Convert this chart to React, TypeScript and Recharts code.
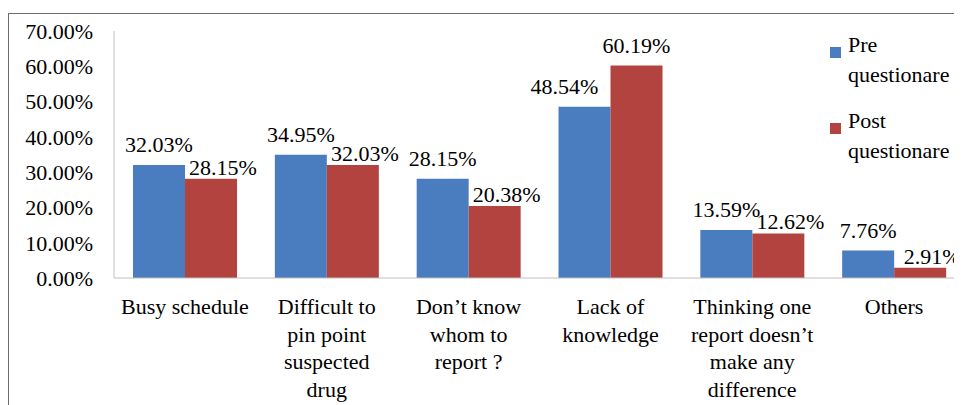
import { BarChart, Bar, XAxis, YAxis, Legend, LabelList } from 'recharts';

const categories = [
  'Busy schedule',
  'Difficult to\npin point\nsuspected\ndrug',
  'Don’t know\nwhom to\nreport ?',
  'Lack of\nknowledge',
  'Thinking one\nreport doesn’t\nmake any\ndifference',
  'Others',
];
const preValues = [32.03, 34.95, 28.15, 48.54, 13.59, 7.76];
const postValues = [28.15, 32.03, 20.38, 60.19, 12.62, 2.91];
const yTicks = [0, 10, 20, 30, 40, 50, 60, 70];
const seriesNames = ['Pre\nquestionare', 'Post\nquestionare'];

const data = categories.map((name, i) => ({ name, pre: preValues[i], post: postValues[i] }));

const FONT = 'Liberation Serif, Tinos, Times New Roman, DejaVu Serif, serif';
const FS = 22;
const BLUE = '#4a7dbf';
const RED = '#b3433f';

const fmt = (v: number) => `${Number(v).toFixed(2)}%`;

const CategoryTick = (props: any) => {
  const { x, y, payload } = props;
  const lines = String(payload.value).split('\n');
  return (
    <text x={x} y={y + 36} textAnchor="middle" fontFamily={FONT} fontSize={FS} fill="#000">
      {lines.map((line, i) => (
        <tspan key={i} x={x} dy={i === 0 ? 0 : 27.5}>
          {line}
        </tspan>
      ))}
    </text>
  );
};

const PreLabel = (props: any) => {
  const { x, y, width, value, index } = props;
  // pushed left when the red bar next to it is taller
  const dx = postValues[index] > preValues[index] ? -20 : 0;
  return (
    <text x={Number(x) + Number(width) / 2 + dx} y={Number(y) - 13} textAnchor="middle" fontFamily={FONT} fontSize={FS} fill="#000">
      {fmt(value)}
    </text>
  );
};

const PostLabel = (props: any) => {
  const { x, y, width, value, index } = props;
  // Excel nudged labels that would collide with the neighbouring blue one
  const close = Math.abs(preValues[index] - postValues[index]) < 10;
  const dx = close ? 12 : 0;
  const gap = close ? 4 : 13;
  return (
    <text x={Number(x) + Number(width) / 2 + dx} y={Number(y) - gap} textAnchor="middle" fontFamily={FONT} fontSize={FS} fill="#000">
      {fmt(value)}
    </text>
  );
};

const renderLegend = () => {
  const colors = [BLUE, RED];
  return (
    <div style={{ fontFamily: FONT, fontSize: FS, lineHeight: '30px', color: '#000' }}>
      {seriesNames.map((name, i) => (
        <div key={i} style={{ position: 'relative', paddingLeft: 18, marginBottom: 16 }}>
          <span style={{ position: 'absolute', left: 0, top: 17, width: 11, height: 11, background: colors[i] }} />
          {name.split('\n').map((l, j) => (
            <div key={j}>{l}</div>
          ))}
        </div>
      ))}
    </div>
  );
};

const App = () => {
  return (
    <div style={{ position: 'relative', width: 954, height: 397, overflow: 'hidden' }}>
      <div
        style={{
          position: 'absolute',
          top: 5,
          left: 0,
          width: 2000,
          height: 2000,
          borderTop: '1px solid #6b6b6b',
          borderLeft: '1px solid #6b6b6b',
        }}
      />
      <div style={{ position: 'absolute', top: 0, left: 0 }}>
        <BarChart
          width={970}
          height={397}
          data={data}
          margin={{ top: 23, right: 13, left: 0, bottom: 0 }}
          barCategoryGap={19}
          barGap={0}
        >
          <XAxis
            dataKey="name"
            height={127}
            interval={0}
            tickLine={false}
            tickSize={0}
            tickMargin={0}
            axisLine={{ stroke: '#bfbfbf' }}
            tick={<CategoryTick />}
          />
          <YAxis
            width={106}
            domain={[0, 70]}
            ticks={yTicks}
            tickFormatter={fmt}
            tickLine={false}
            tickSize={8}
            tickMargin={13}
            axisLine={{ stroke: '#bfbfbf' }}
            tick={{ fill: '#000', fontSize: FS, fontFamily: FONT }}
          />
          <Legend
            layout="vertical"
            align="center"
            verticalAlign="middle"
            content={renderLegend}
            wrapperStyle={{ position: 'absolute', top: 22, left: 822, width: 140 }}
          />
          <Bar dataKey="pre" fill={BLUE} isAnimationActive={false}>
            <LabelList dataKey="pre" content={<PreLabel />} />
          </Bar>
          <Bar dataKey="post" fill={RED} isAnimationActive={false}>
            <LabelList dataKey="post" content={<PostLabel />} />
          </Bar>
        </BarChart>
      </div>
    </div>
  );
};

export default App;
